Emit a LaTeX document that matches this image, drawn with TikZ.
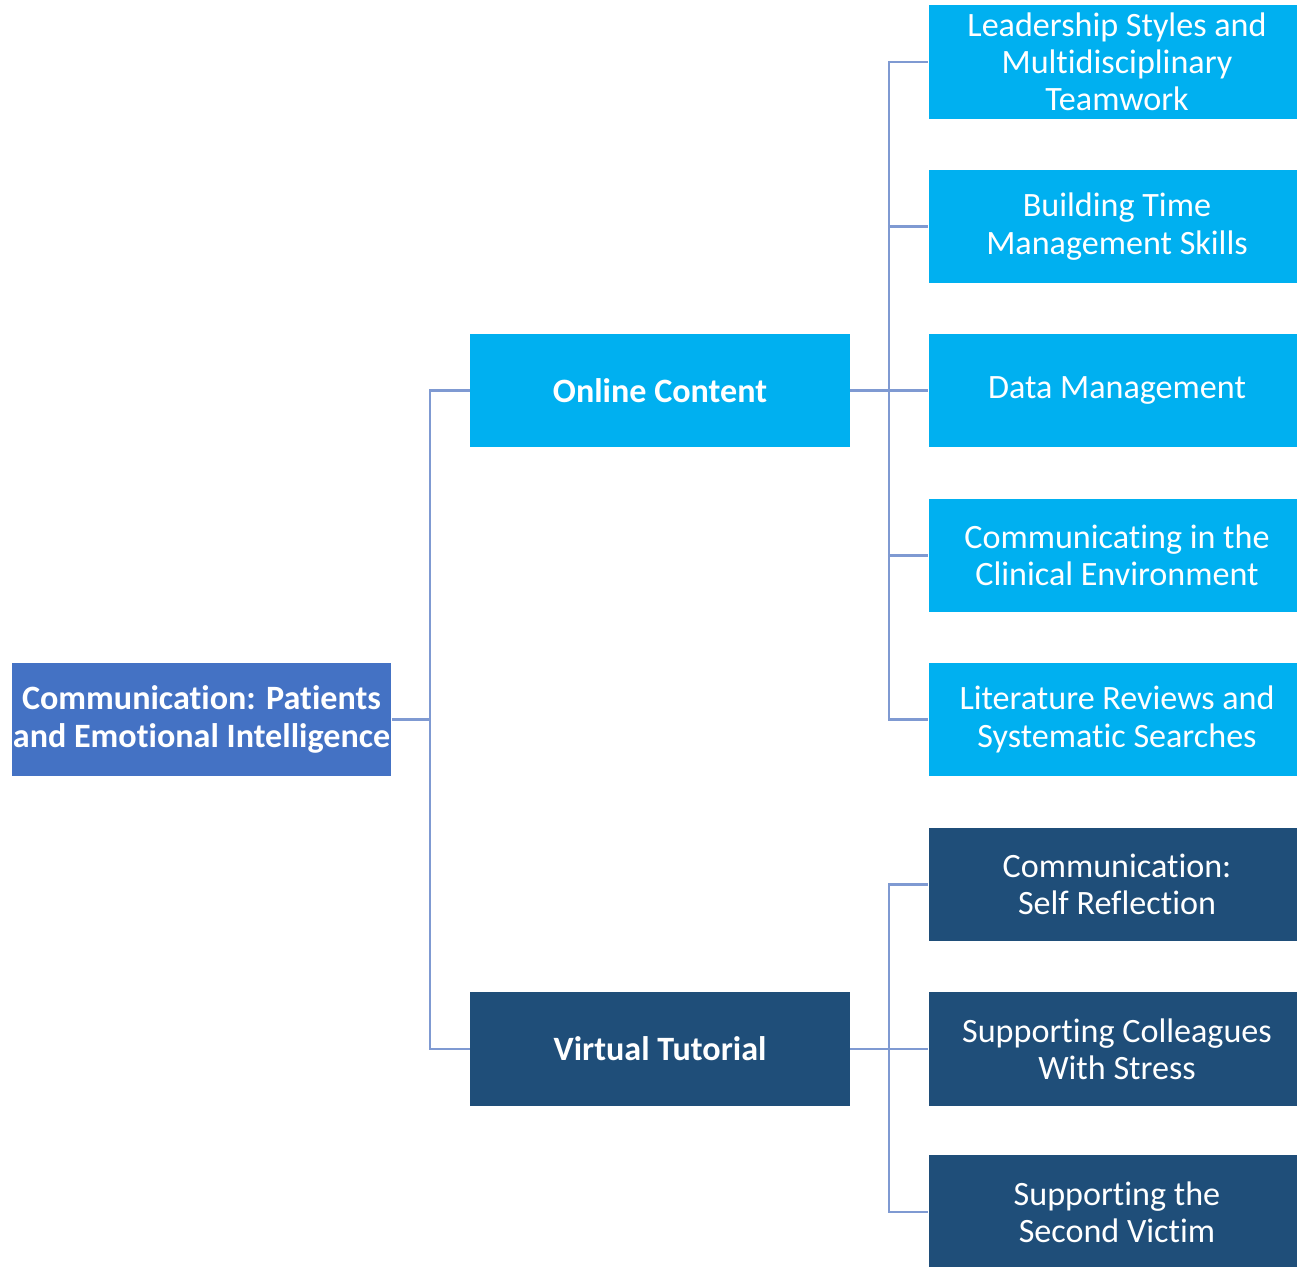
\documentclass[tikz,border=0pt]{standalone}
\usepackage{fontspec}
\setmainfont{Carlito}[Ligatures={NoCommon}]
\usepackage{tikz}
\usetikzlibrary{positioning}
\definecolor{rootblue}{HTML}{4472C4}
\definecolor{lightblue}{HTML}{00B0F0}
\definecolor{darkblue}{HTML}{1F4E79}
\definecolor{linkblue}{HTML}{7F9AD2}
\tikzset{
  box/.style={draw=none, text=white, minimum width=3.79cm, minimum height=1.13cm,
    align=center, inner sep=0pt, font=\fontsize{9.7}{10.6}\selectfont},
  topbox/.style={box, fill=rootblue, font=\fontsize{9.7}{10.6}\selectfont\bfseries},
  midbox/.style={box, font=\fontsize{9.7}{10.6}\selectfont\bfseries},
  leafbox/.style={box, minimum width=3.76cm},
  link/.style={draw=linkblue, line width=0.6pt}
}
\begin{document}
\begin{tikzpicture}[x=0.01cm, y=-0.01cm]
\useasboundingbox (0,0) rectangle (1297,1267);
% root and first level
\node [topbox] (root) at (201.5,719.5) {Communication: Patients\\and Emotional Intelligence};
\node [midbox, fill=lightblue] (online) at (660,390.5) {Online Content};
\node [midbox, fill=darkblue] (virtual) at (660,1049) {Virtual Tutorial};
% leaves
\node [leafbox, fill=lightblue] (lead) at (1117,62) {Leadership Styles and\\Multidisciplinary\\Teamwork};
\node [leafbox, fill=lightblue] (time) at (1117,226.5) {Building Time\\Management Skills};
\node [leafbox, fill=lightblue] (data) at (1117,390.5) {Data Management};
\node [leafbox, fill=lightblue] (clinic) at (1117,555.5) {Communicating in the\\Clinical Environment};
\node [leafbox, fill=lightblue] (lit) at (1117,719.5) {Literature Reviews and\\Systematic Searches};
\node [leafbox, fill=darkblue] (self) at (1117,884.5) {Communication:\\Self Reflection};
\node [leafbox, fill=darkblue] (stress) at (1117,1049) {Supporting Colleagues\\With Stress};
\node [leafbox, fill=darkblue] (victim) at (1117,1212) {Supporting the\\Second Victim};
% connectors
\coordinate (rootfork) at (430,719.5);
\coordinate (onlinefork) at (889,390.5);
\coordinate (virtualfork) at (889,1049);
\draw [link] (root.east) -- (rootfork);
\draw [link] (rootfork) |- (online.west);
\draw [link] (rootfork) |- (virtual.west);
\draw [link] (online.east) -- (onlinefork);
\foreach \leaf in {lead, time, data, clinic, lit}
  \draw [link] (onlinefork) |- (\leaf.west);
\draw [link] (virtual.east) -- (virtualfork);
\foreach \leaf in {self, stress, victim}
  \draw [link] (virtualfork) |- (\leaf.west);
\end{tikzpicture}
\end{document}
